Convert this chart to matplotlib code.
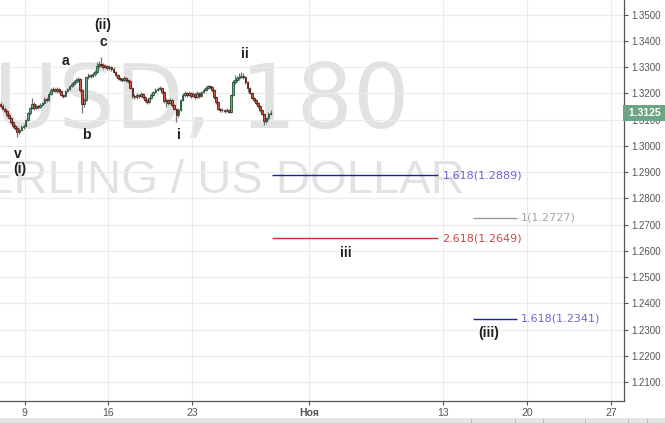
import numpy as np
import matplotlib
matplotlib.use('Agg')
import matplotlib.pyplot as plt
from matplotlib.patches import Rectangle
import matplotlib.transforms as mtransforms

# GBPUSD 3h bars, x in trading days from Mon Oct 9
first_bar = -1.44
bar_step = 1 / 8

closes = [1.3152, 1.3141, 1.3133, 1.3118, 1.3106, 1.3091, 1.3076, 1.3068, 1.3053, 1.3061,
          1.3072, 1.3076, 1.3099, 1.3125, 1.3144, 1.3160, 1.3144, 1.3152, 1.3148, 1.3156,
          1.3163, 1.3179, 1.3175, 1.3198, 1.3213, 1.3217, 1.3209, 1.3217, 1.3209, 1.3194,
          1.3190, 1.3209, 1.3217, 1.3228, 1.3236, 1.3243, 1.3251, 1.3255, 1.3213, 1.3160,
          1.3175, 1.3263, 1.3270, 1.3266, 1.3274, 1.3282, 1.3304, 1.3312, 1.3308, 1.3301,
          1.3304, 1.3297, 1.3301, 1.3293, 1.3282, 1.3270, 1.3259, 1.3255, 1.3251, 1.3259,
          1.3251, 1.3247, 1.3221, 1.3190, 1.3186, 1.3194, 1.3190, 1.3198, 1.3186, 1.3175,
          1.3167, 1.3183, 1.3194, 1.3205, 1.3213, 1.3217, 1.3221, 1.3205, 1.3171, 1.3175,
          1.3163, 1.3175, 1.3156, 1.3141, 1.3118, 1.3137, 1.3175, 1.3194, 1.3202, 1.3194,
          1.3202, 1.3190, 1.3198, 1.3186, 1.3202, 1.3190, 1.3205, 1.3213, 1.3221, 1.3228,
          1.3224, 1.3213, 1.3186, 1.3167, 1.3141, 1.3137, 1.3137, 1.3133, 1.3137, 1.3129,
          1.3194, 1.3243, 1.3251, 1.3259, 1.3263, 1.3266, 1.3263, 1.3243, 1.3221, 1.3202,
          1.3183, 1.3175, 1.3163, 1.3152, 1.3137, 1.3122, 1.3095, 1.3106, 1.3122, 1.3125]
opens = [1.3160] + closes[:-1]
highs = [1.3166, 1.3158, 1.3147, 1.3138, 1.3124, 1.3110, 1.3096, 1.3082, 1.3074, 1.3070,
         1.3078, 1.3083, 1.3104, 1.3131, 1.3150, 1.3183, 1.3166, 1.3158, 1.3157, 1.3162,
         1.3169, 1.3185, 1.3186, 1.3204, 1.3219, 1.3224, 1.3222, 1.3223, 1.3221, 1.3213,
         1.3199, 1.3214, 1.3222, 1.3233, 1.3242, 1.3250, 1.3257, 1.3262, 1.3259, 1.3218,
         1.3182, 1.3268, 1.3276, 1.3274, 1.3280, 1.3290, 1.3320, 1.3325, 1.3339, 1.3315,
         1.3312, 1.3310, 1.3308, 1.3306, 1.3299, 1.3287, 1.3274, 1.3264, 1.3260, 1.3265,
         1.3263, 1.3256, 1.3252, 1.3226, 1.3196, 1.3200, 1.3199, 1.3204, 1.3203, 1.3191,
         1.3180, 1.3188, 1.3200, 1.3211, 1.3219, 1.3224, 1.3228, 1.3226, 1.3210, 1.3182,
         1.3180, 1.3181, 1.3179, 1.3160, 1.3146, 1.3143, 1.3180, 1.3200, 1.3208, 1.3207,
         1.3209, 1.3206, 1.3204, 1.3203, 1.3208, 1.3207, 1.3211, 1.3219, 1.3227, 1.3234,
         1.3233, 1.3229, 1.3218, 1.3191, 1.3172, 1.3146, 1.3143, 1.3141, 1.3143, 1.3142,
         1.3199, 1.3250, 1.3270, 1.3268, 1.3276, 1.3282, 1.3278, 1.3268, 1.3248, 1.3226,
         1.3207, 1.3188, 1.3180, 1.3168, 1.3157, 1.3142, 1.3127, 1.3112, 1.3128, 1.3135]
lows = [1.3146, 1.3136, 1.3127, 1.3112, 1.3101, 1.3085, 1.3070, 1.3062, 1.3034, 1.3045,
        1.3055, 1.3066, 1.3071, 1.3094, 1.3119, 1.3139, 1.3138, 1.3139, 1.3142, 1.3143,
        1.3151, 1.3158, 1.3169, 1.3170, 1.3193, 1.3207, 1.3204, 1.3203, 1.3203, 1.3189,
        1.3182, 1.3186, 1.3204, 1.3212, 1.3223, 1.3231, 1.3238, 1.3245, 1.3207, 1.3125,
        1.3150, 1.3170, 1.3256, 1.3260, 1.3261, 1.3268, 1.3276, 1.3297, 1.3300, 1.3294,
        1.3295, 1.3291, 1.3290, 1.3287, 1.3276, 1.3264, 1.3253, 1.3249, 1.3245, 1.3246,
        1.3245, 1.3241, 1.3215, 1.3183, 1.3179, 1.3180, 1.3184, 1.3185, 1.3180, 1.3168,
        1.3160, 1.3162, 1.3178, 1.3189, 1.3200, 1.3208, 1.3212, 1.3199, 1.3165, 1.3150,
        1.3157, 1.3158, 1.3150, 1.3135, 1.3091, 1.3110, 1.3132, 1.3170, 1.3188, 1.3188,
        1.3189, 1.3184, 1.3185, 1.3180, 1.3181, 1.3184, 1.3185, 1.3200, 1.3208, 1.3216,
        1.3218, 1.3207, 1.3180, 1.3161, 1.3135, 1.3131, 1.3131, 1.3127, 1.3128, 1.3124,
        1.3125, 1.3189, 1.3237, 1.3245, 1.3253, 1.3257, 1.3256, 1.3237, 1.3205, 1.3196,
        1.3177, 1.3169, 1.3157, 1.3146, 1.3131, 1.3116, 1.3080, 1.3088, 1.3100, 1.3116]

last_price = 1.3125

# fibonacci projections: (label, price, start day, end day, line colour, text colour)
fib_levels = [
    ('1.618(1.2889)', 1.2889, 14.75, 24.7, '#23238c', '#6b63d6'),
    ('2.618(1.2649)', 1.2649, 14.75, 24.7, '#c03434', '#d24848'),
    ('1(1.2727)', 1.2727, 26.8, 29.4, '#9a9a9a', '#a3a3a3'),
    ('1.618(1.2341)', 1.2341, 26.8, 29.4, '#23238c', '#6b63d6'),
]

# elliott wave labels (text, day, price)
wave_labels = [
    ('(ii)', 4.68, 1.3460), ('c', 4.68, 1.3397), ('a', 2.43, 1.3322),
    ('b', 3.66, 1.3041), ('i', 9.22, 1.3041), ('ii', 13.16, 1.3350),
    ('v', -0.4, 1.2969), ('(i)', -0.3, 1.2912), ('iii', 19.2, 1.2592),
    ('(iii)', 27.7, 1.2286),
]

xtick_pos = [0, 5, 10, 17, 25, 30, 35]
xtick_lab = ['9', '16', '23', 'Ноя', '13', '20', '27']
yticks = np.round(np.arange(1.21, 1.3501, 0.01), 2)

fig = plt.figure(figsize=(6.65, 4.23), dpi=100)
ax = fig.add_axes([0, 22 / 423, 623.7 / 665, 401 / 423])
ax.set_xlim(-1.47, 35.77)
ax.set_ylim(1.2028, 1.3556)

ax.set_xticks(xtick_pos)
ax.set_xticklabels(xtick_lab)
ax.set_yticks(yticks)
ax.set_yticklabels(['%.4f' % v for v in yticks])
ax.yaxis.tick_right()
ax.grid(True, color='#ebebeb', linewidth=0.8, zorder=0)
ax.set_axisbelow(True)
for s in ['top', 'left']:
    ax.spines[s].set_visible(False)
for s in ['right', 'bottom']:
    ax.spines[s].set_color('#555555')
    ax.spines[s].set_linewidth(0.9)
ax.tick_params(axis='y', length=3, pad=2.5, colors='#555555', labelsize=7, labelcolor='#555555')
ax.tick_params(axis='x', length=3, pad=2, colors='#555555', labelsize=7.5, labelcolor='#555555')
for t in ax.get_yticklabels() + ax.get_xticklabels():
    t.set_family('Liberation Sans')
ax.get_xticklabels()[3].set_fontweight('bold')

# watermark
ax.text(0.656, 0.681, 'GBPUSD, 180', transform=ax.transAxes, ha='right', va='baseline',
        fontsize=64, color='#e2e2e2', family='DejaVu Sans', zorder=0.5)
ax.text(0.745, 0.519, 'POUND STERLING / US DOLLAR', transform=ax.transAxes, ha='right',
        va='baseline', fontsize=34, color='#e2e2e2', family='Liberation Sans', zorder=0.5)

# candles
xs = first_bar + np.arange(len(closes)) * bar_step
o = np.array(opens)
c = np.array(closes)
up = c >= o
ax.vlines(xs, lows, highs, color='#737375', linewidth=0.9, zorder=2)
ax.bar(xs[up], (c - o)[up], bottom=o[up], width=0.1, color='#6ba583',
       edgecolor='#225437', linewidth=0.6, zorder=3)
ax.bar(xs[~up], (c - o)[~up], bottom=o[~up], width=0.1, color='#d75442',
       edgecolor='#5b1a13', linewidth=0.6, zorder=3)

# fib levels
for lab, p, x0, x1, lc, tc in fib_levels:
    ax.hlines(p, x0, x1, color=lc, linewidth=1.0, zorder=3)
    ax.text(x1 + 0.25, p, lab, color=tc, fontsize=8, family='DejaVu Sans',
            ha='left', va='center', zorder=4)

for lab, x, p in wave_labels:
    ax.text(x, p, lab, ha='center', va='center', fontsize=10, fontweight='bold',
            color='#1e1e1e', family='Liberation Sans', zorder=4)

# last price label on the scale
trans = mtransforms.blended_transform_factory(ax.transAxes, ax.transData)
ax.text(1.004, last_price, ' 1.3125 ', transform=trans, ha='left', va='center',
        fontsize=7.5, fontweight='bold', color='white', family='Liberation Sans',
        clip_on=False, zorder=10,
        bbox=dict(boxstyle='square,pad=0.3', facecolor='#6ba583', edgecolor='none'))

# bottom toolbar strip
fig.patches.append(Rectangle((0, 0), 1, 5 / 423, transform=fig.transFigure,
                             facecolor='#e4e4e4', edgecolor='none', zorder=0))
for px in [471, 515, 543, 585, 628, 647]:
    fig.add_artist(plt.Line2D([px / 665, px / 665], [0, 4 / 423], color='#b5b5b5',
                              linewidth=0.6, transform=fig.transFigure))

fig.savefig('out.png', dpi=100)
